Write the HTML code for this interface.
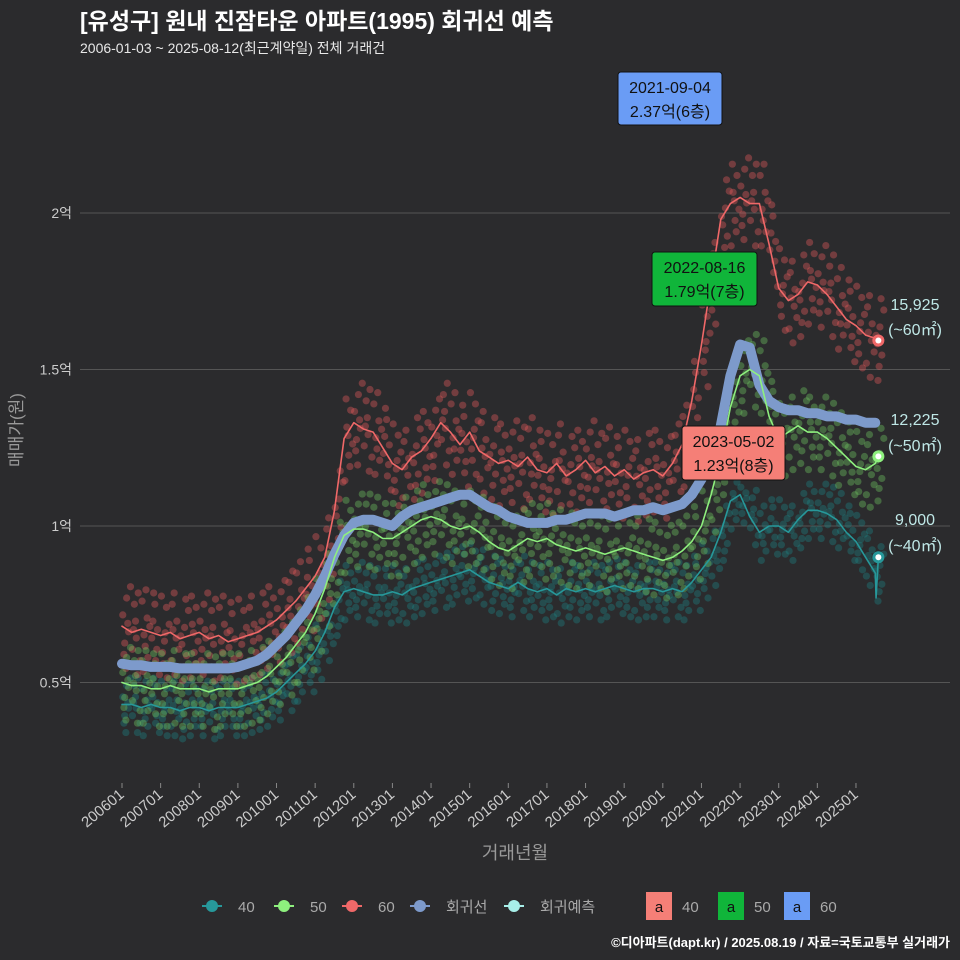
<!DOCTYPE html>
<html><head><meta charset="utf-8">
<style>
body{margin:0;background:#2b2b2d;}
svg{display:block;font-family:"Liberation Sans","Noto Sans CJK KR",sans-serif;}
</style></head>
<body>
<svg id="chart" width="960" height="960" viewBox="0 0 960 960">
<rect width="960" height="960" fill="#2b2b2d"/>
<text x="80" y="29" fill="#ffffff" font-size="23" font-weight="bold">[유성구] 원내 진잠타운 아파트(1995) 회귀선 예측</text>
<text x="80" y="53" fill="#e8e8e8" font-size="14">2006-01-03 ~ 2025-08-12(최근계약일) 전체 거래건</text>
<g id="grid"></g>
<g id="scatter"></g>
<g id="lines"></g>
<g id="xaxis"></g>
<text x="22" y="430" fill="#999" font-size="17" text-anchor="middle" transform="rotate(-90 22 430)">매매가(원)</text>
<text x="515" y="859" fill="#999" font-size="18" text-anchor="middle">거래년월</text>
<g id="annot"></g>
<g id="legend" font-size="15" fill="#aaa"></g>
<text x="950" y="947" fill="#fff" font-size="13" font-weight="bold" text-anchor="end">©디아파트(dapt.kr) / 2025.08.19 / 자료=국토교통부 실거래가</text>
</svg>
<script>
const yTicks=[0.5,1,1.5,2];
const yTickLabels=["0.5억","1억","1.5억","2억"];
const xTickYears=[2006,2007,2008,2009,2010,2011,2012,2013,2014,2015,2016,2017,2018,2019,2020,2021,2022,2023,2024,2025];
const xTickLabels=["200601","200701","200801","200901","201001","201101","201201","201301","201401","201501","201601","201701","201801","201901","202001","202101","202201","202301","202401","202501"];
const startYear=2006, stepYear=0.25;
const s60=[0.68,0.66,0.67,0.66,0.65,0.66,0.64,0.65,0.66,0.64,0.65,0.63,0.64,0.65,0.66,0.68,0.70,0.73,0.76,0.80,0.84,0.90,1.05,1.28,1.33,1.31,1.30,1.25,1.20,1.18,1.22,1.24,1.28,1.33,1.30,1.26,1.30,1.24,1.22,1.20,1.21,1.19,1.22,1.18,1.17,1.20,1.16,1.18,1.21,1.17,1.19,1.16,1.18,1.15,1.17,1.18,1.16,1.20,1.26,1.40,1.58,1.78,1.98,2.03,2.05,2.03,2.03,1.90,1.76,1.72,1.74,1.78,1.77,1.74,1.70,1.66,1.64,1.61,1.60];
const s50=[0.50,0.49,0.49,0.48,0.48,0.49,0.48,0.48,0.48,0.47,0.48,0.48,0.48,0.49,0.50,0.52,0.55,0.58,0.62,0.66,0.72,0.80,0.90,0.97,0.99,0.99,0.98,0.96,0.96,0.98,1.00,1.02,1.03,1.02,1.00,0.99,1.00,0.98,0.95,0.93,0.92,0.94,0.96,0.95,0.96,0.94,0.93,0.92,0.93,0.92,0.91,0.92,0.93,0.92,0.91,0.90,0.89,0.90,0.92,0.95,1.00,1.10,1.22,1.38,1.48,1.50,1.48,1.35,1.28,1.30,1.32,1.30,1.30,1.28,1.25,1.22,1.19,1.18,1.20];
const s40=[0.43,0.43,0.42,0.43,0.42,0.42,0.41,0.42,0.42,0.41,0.42,0.42,0.42,0.43,0.44,0.45,0.47,0.50,0.53,0.56,0.60,0.66,0.74,0.79,0.80,0.79,0.78,0.78,0.79,0.78,0.80,0.81,0.82,0.83,0.84,0.85,0.86,0.84,0.82,0.81,0.80,0.82,0.80,0.79,0.80,0.78,0.80,0.79,0.80,0.79,0.80,0.81,0.80,0.79,0.80,0.80,0.79,0.80,0.79,0.82,0.86,0.90,0.98,1.08,1.10,1.03,0.98,1.00,1.00,0.98,1.02,1.05,1.05,1.04,1.02,0.98,0.95,0.90,0.85];
const sReg=[0.56,0.555,0.555,0.55,0.55,0.55,0.545,0.545,0.545,0.545,0.545,0.545,0.55,0.56,0.57,0.59,0.62,0.65,0.69,0.73,0.78,0.84,0.91,0.97,1.01,1.02,1.02,1.01,1.00,1.03,1.05,1.06,1.07,1.08,1.09,1.10,1.10,1.08,1.06,1.05,1.03,1.02,1.01,1.01,1.01,1.02,1.02,1.03,1.04,1.04,1.04,1.03,1.04,1.05,1.05,1.06,1.05,1.06,1.07,1.10,1.15,1.22,1.32,1.48,1.58,1.57,1.45,1.40,1.38,1.37,1.37,1.36,1.36,1.35,1.35,1.34,1.34,1.33,1.33];
const spreadVals=[0.04,-0.06,0.10,-0.02,0.14,-0.10,0.01,-0.15];
const spreadTimes=[0.02,0.07,0.12,0.17,0.22,0.05,0.15,0.10];
const endYear=2025.58;
const endVals=[1.5925,1.2225,0.90];
const endLabels=["15,925","12,225","9,000"];
const endAreas=["(~60㎡)","(~50㎡)","(~40㎡)"];

const NS="http://www.w3.org/2000/svg";
function X(t){return 122+(t-2006)*38.63;}
function Y(v){return 526-(v-1)*313;}
function mk(tag,attrs,parent){const e=document.createElementNS(NS,tag);for(const k in attrs)e.setAttribute(k,attrs[k]);parent.appendChild(e);return e;}
const grid=document.getElementById('grid');
yTicks.forEach((v,i)=>{
  const l=mk('line',{x1:80,x2:950,y1:Y(v),y2:Y(v),stroke:'#555',"stroke-width":1},grid);
  
  
  const t=mk('text',{x:72,y:Y(v)+5,fill:'#ccc',"font-size":14,"text-anchor":"end"},grid);
  t.textContent=yTickLabels[i];
  
  
});
const xa=document.getElementById('xaxis');
xTickYears.forEach((yr,i)=>{
  const x=X(yr);
  const l=mk('line',{x1:x,x2:x,y1:783,y2:788,stroke:'#888'},xa);
  
  
  const t=mk('text',{x:x+3,y:796,fill:'#ccc',"font-size":15,"text-anchor":"end",transform:`rotate(-40 ${x+3} 796)`},xa);
  t.textContent=xTickLabels[i];
  
  
});
const sc=document.getElementById('scatter');
function scatter(arr,color,name,scale){
  arr.forEach((v,i)=>{
    for(let k=0;k<spreadVals.length;k++){
      const t=startYear+i*stepYear+spreadTimes[k];
      const c=mk('circle',{cx:X(t),cy:Y(v+spreadVals[(k+i)%spreadVals.length]*scale),r:3.6,fill:color,"fill-opacity":0.4},sc);
      
      
    }
  });
}
scatter(s40,'#1f7f80','scatter-40',0.6);
scatter(s60,'#e05a5a','scatter-60',0.9);
scatter(s50,'#6dc45f','scatter-50',0.8);
const ln=document.getElementById('lines');
function line(arr,color,w,name,extra){
  let d=arr.map((v,i)=>(i?'L':'M')+X(startYear+i*stepYear).toFixed(1)+','+Y(v).toFixed(1)).join(' ');
  if(extra)d+=extra;
  const p=mk('path',{d:d,fill:'none',stroke:color,"stroke-width":w,"stroke-linejoin":"round","stroke-linecap":"round"},ln);
  
  
}
line(sReg,'#7d9acb',10,'regression-line','');
line(s40,'#27989a',1.6,'line-40',' L'+X(2025.52)+','+Y(0.77)+' L'+X(endYear)+','+Y(endVals[2]));
line(s50,'#8ef07e',1.6,'line-50',' L'+X(endYear)+','+Y(endVals[1]));
line(s60,'#f06868',1.6,'line-60',' L'+X(endYear)+','+Y(endVals[0]));
const endColors=['#f06868','#8ef07e','#27989a'];
const an=document.getElementById('annot');
endVals.forEach((v,i)=>{
  const c=mk('circle',{cx:X(endYear),cy:Y(v),r:6,fill:endColors[i]},an);
  
  
  const c2=mk('circle',{cx:X(endYear),cy:Y(v),r:3,fill:'#fff'},an);
  
  
});
const endLabelY=[[310,335],[425,451],[525,551]];
endVals.forEach((v,i)=>{
  const t=mk('text',{x:915,y:endLabelY[i][0],fill:'#bfe7e6',"font-size":16,"text-anchor":"middle"},an);
  t.textContent=endLabels[i];
  
  
  const t2=mk('text',{x:915,y:endLabelY[i][1],fill:'#bfe7e6',"font-size":16,"text-anchor":"middle"},an);
  t2.textContent=endAreas[i];
  
  
});
const boxes=[[618,72,104,53,'#6a9cf5','2021-09-04','2.37억(6층)','max-label-60'],[652,252,105,54,'#10b53a','2022-08-16','1.79억(7층)','max-label-50'],[682,426,103,54,'#f57f77','2023-05-02','1.23억(8층)','max-label-40']];
boxes.forEach(b=>{
  const g=mk('g',{},an);
  
  
  mk('rect',{x:b[0],y:b[1],width:b[2],height:b[3],rx:3,fill:b[4],stroke:'#111'},g);
  const t1=mk('text',{x:b[0]+b[2]/2,y:b[1]+21,"font-size":16,fill:'#111',"text-anchor":"middle"},g);t1.textContent=b[5];
  const t2=mk('text',{x:b[0]+b[2]/2,y:b[1]+45,"font-size":16,fill:'#111',"text-anchor":"middle"},g);t2.textContent=b[6];
});
const lg=document.getElementById('legend');
const legItems=[['#27989a','40',212],['#8ef07e','50',284],['#f06868','60',352],['#7d9acb','회귀선',420],['#a8efe9','회귀예측',514]];
legItems.forEach(it=>{
  const g=mk('g',{},lg);
  
  
  mk('line',{x1:it[2]-10,x2:it[2]+10,y1:906,y2:906,stroke:it[0],"stroke-width":2},g);
  mk('circle',{cx:it[2],cy:906,r:6,fill:it[0]},g);
  const t=mk('text',{x:it[2]+26,y:912,fill:'#aaa'},g);t.textContent=it[1];
});
const legBoxes=[['#f57f77','40',646],['#10b53a','50',718],['#6a9cf5','60',784]];
legBoxes.forEach(it=>{
  const g=mk('g',{},lg);
  
  
  mk('rect',{x:it[2],y:892,width:26,height:28,fill:it[0]},g);
  const a=mk('text',{x:it[2]+13,y:912,fill:'#111',"text-anchor":"middle"},g);a.textContent='a';
  const t=mk('text',{x:it[2]+36,y:912,fill:'#aaa'},g);t.textContent=it[1];
});
</script>
</body></html>
